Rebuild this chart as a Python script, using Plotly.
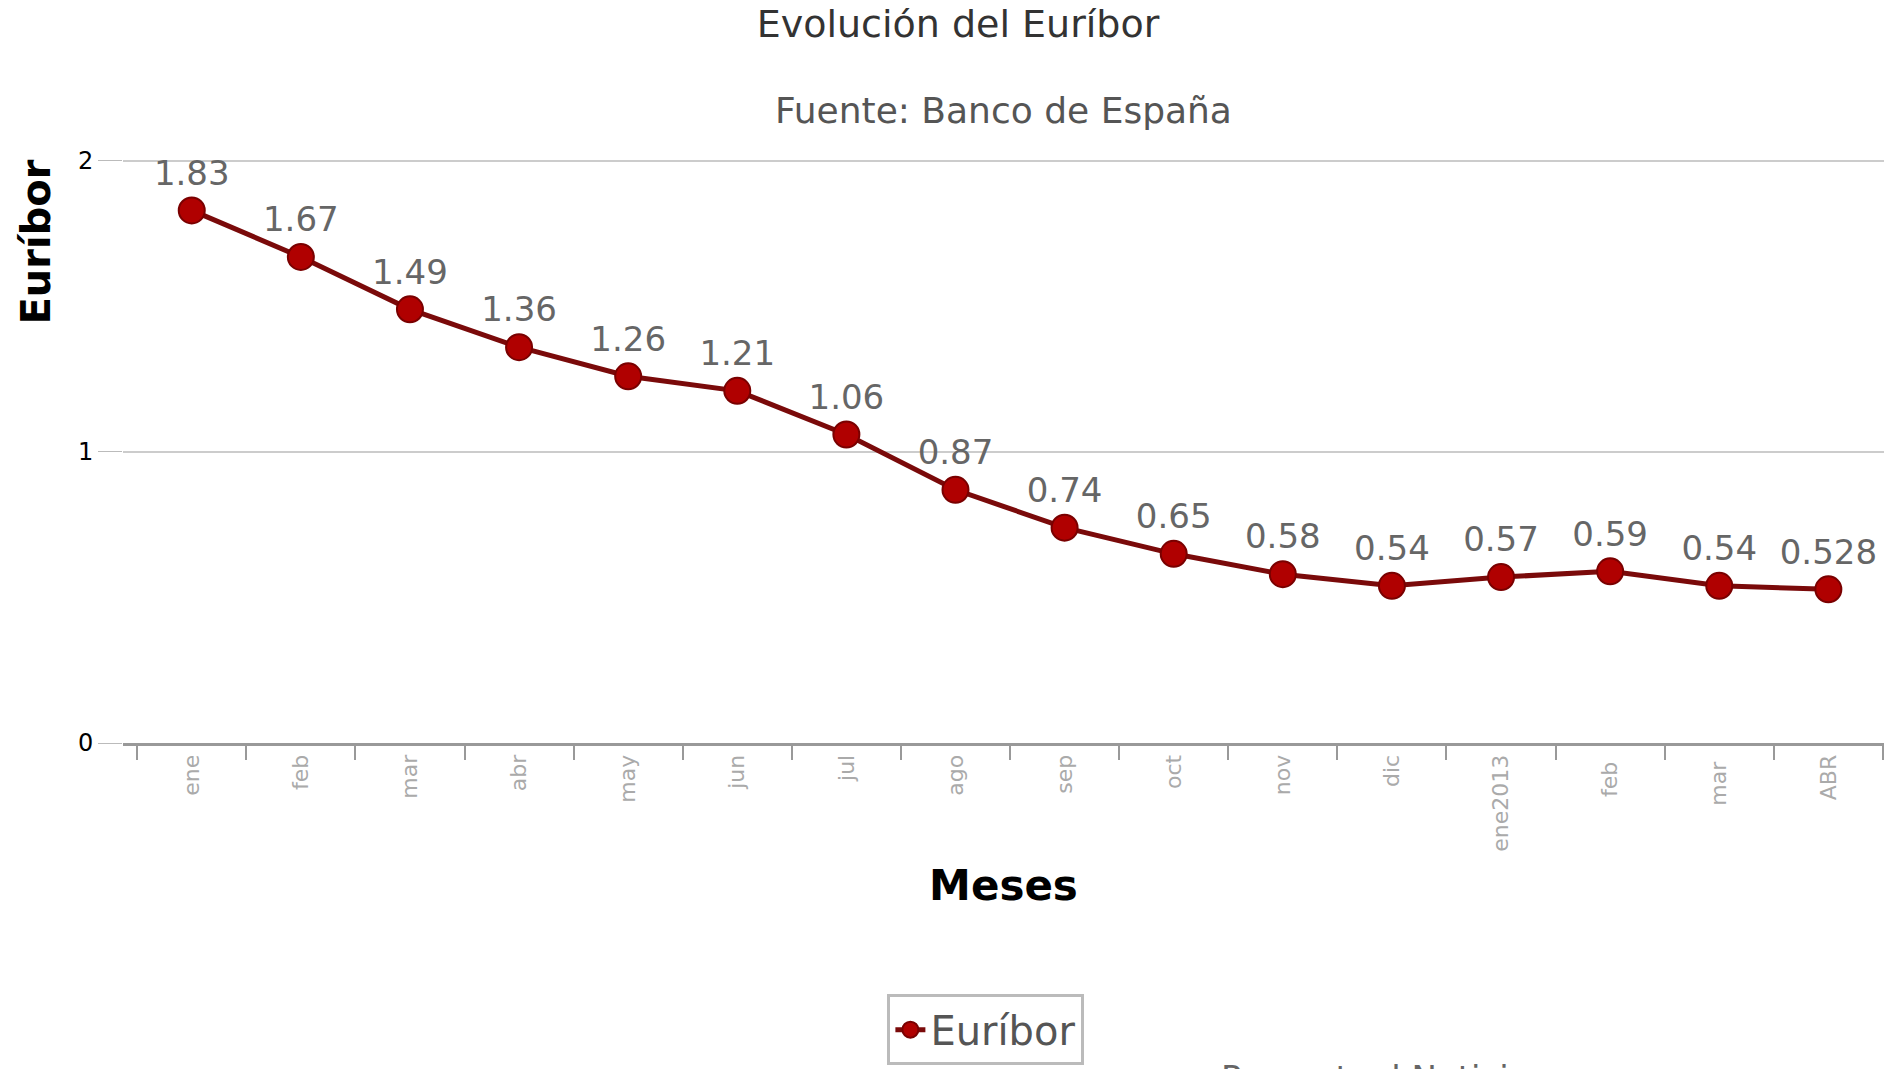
import plotly.graph_objects as go

meses = ["ene", "feb", "mar", "abr", "may", "jun", "jul", "ago", "sep", "oct",
         "nov", "dic", "ene2013", "feb ", "mar ", "ABR"]
euribor = [1.83, 1.67, 1.49, 1.36, 1.26, 1.21, 1.06, 0.87, 0.74, 0.65,
           0.58, 0.54, 0.57, 0.59, 0.54, 0.528]
etiquetas = [str(v) for v in euribor]

fig = go.Figure()
fig.add_trace(go.Scatter(
    x=meses, y=euribor, mode='lines+markers+text', name='Euríbor',
    text=etiquetas, textposition='top center',
    textfont=dict(family='DejaVu Sans', size=34, color='#666666'),
    line=dict(color='#7a0a0a', width=5),
    marker=dict(size=26, color='#b00000', line=dict(color='#7a0000', width=2)),
    cliponaxis=False,
))

fig.update_layout(
    width=1900, height=1069,
    paper_bgcolor='white', plot_bgcolor='white',
    margin=dict(l=115, r=24, t=150, b=320),
    font=dict(family='DejaVu Sans'),
    title=dict(text='Evolución del Euríbor', x=0.5, y=0.998, yanchor='top',
               font=dict(size=38, color='#333333')),
    showlegend=True,
    legend=dict(orientation='h', x=0.49, y=-0.49, xanchor='center', yanchor='middle',
                bordercolor='#bbbbbb', borderwidth=3, bgcolor='white',
                font=dict(size=40, color='#555555')),
    xaxis=dict(type='category', range=[-0.63, 15.51], tickson='boundaries',
               ticks='outside', ticklen=14, tickcolor='#999999', tickwidth=2,
               showline=True, linecolor='#999999', linewidth=3,
               showgrid=False, tickangle=-90,
               tickfont=dict(size=22, color='#aaaaaa'),
               title=dict(text='<b>Meses</b>', font=dict(size=42, color='black'), standoff=20)),
    yaxis=dict(range=[0, 2.01], tickvals=[0, 1, 2], gridcolor='#cccccc', gridwidth=2,
               zeroline=False, ticks='outside', ticklen=24, tickcolor='#bbbbbb',
               tickfont=dict(size=24, color='black')),
    annotations=[
        dict(text='<b>Euríbor</b>', xref='paper', yref='paper', x=0, xshift=-88, y=1.0,
             xanchor='center', yanchor='top', textangle=-90, showarrow=False,
             font=dict(size=40, color='black')),
        dict(text='Fuente: Banco de España', xref='paper', yref='paper', x=0.5, y=1.0,
             yshift=70, showarrow=False, font=dict(size=36, color='#555555')),
        dict(text='Porcentual Noticias', xref='paper', yref='paper', x=0.81, y=-0.61,
             showarrow=False, font=dict(size=34, color='#666666')),
    ],
)
fig.write_html("out.html")
